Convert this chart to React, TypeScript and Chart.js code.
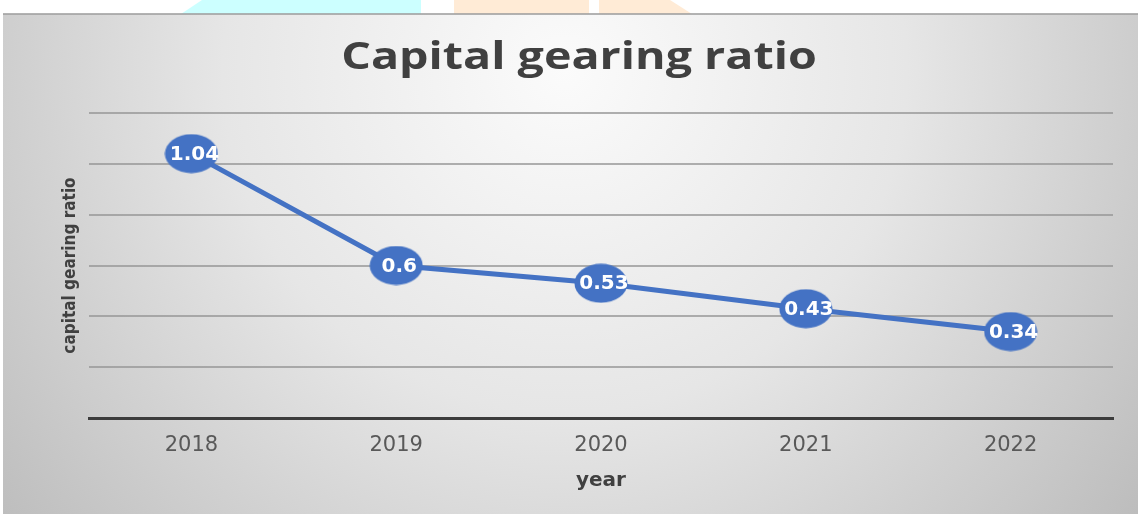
import React, { useEffect, useRef } from "react";
import { Chart, registerables } from "chart.js";

Chart.register(...registerables);

const categories = ["2018", "2019", "2020", "2021", "2022"];
const ratioValues = [1.04, 0.6, 0.53, 0.43, 0.34];
const yTicks = [0, 0.2, 0.4, 0.6, 0.8, 1.0, 1.2];
const chartTitle = "Capital gearing ratio";

const BLUE = "#4472C4";

function makeEllipse(): HTMLCanvasElement {
  const c = document.createElement("canvas");
  c.width = 54;
  c.height = 40;
  const ctx = c.getContext("2d")!;
  ctx.fillStyle = BLUE;
  ctx.beginPath();
  ctx.ellipse(27, 20, 26.5, 19.5, 0, 0, Math.PI * 2);
  ctx.fill();
  return c;
}

const backgroundPlugin = {
  id: "bgPlugin",
  beforeDraw(chart: any) {
    const { ctx, width, height } = chart;
    ctx.save();
    ctx.fillStyle = "#ffffff";
    ctx.fillRect(0, 0, width, height);
    // faint watermark fragments in top strip
    ctx.fillStyle = "#ccffff";
    ctx.beginPath();
    ctx.moveTo(202, 0);
    ctx.lineTo(421, 0);
    ctx.lineTo(421, 14);
    ctx.lineTo(181, 14);
    ctx.closePath();
    ctx.fill();
    ctx.fillStyle = "#ffebd6";
    ctx.beginPath();
    ctx.moveTo(454, 0);
    ctx.lineTo(589, 0);
    ctx.lineTo(589, 14);
    ctx.lineTo(454, 14);
    ctx.closePath();
    ctx.fill();
    ctx.beginPath();
    ctx.moveTo(599, 0);
    ctx.lineTo(670, 0);
    ctx.lineTo(692, 14);
    ctx.lineTo(599, 14);
    ctx.closePath();
    ctx.fill();
    // gradient panel
    const g = ctx.createRadialGradient(565, 70, 0, 565, 70, 760);
    g.addColorStop(0, "#fbfbfb");
    g.addColorStop(0.45, "#e6e6e6");
    g.addColorStop(1, "#b9b9b9");
    ctx.fillStyle = g;
    ctx.fillRect(3, 14, width - 3, height - 14);
    ctx.fillStyle = "rgba(160,160,160,0.8)";
    ctx.fillRect(3, 13, width - 3, 2);
    // chart title (horizontally stretched like the reference)
    ctx.fillStyle = "#404040";
    ctx.font = "bold 37px 'Open Sans', sans-serif";
    ctx.textAlign = "center";
    ctx.textBaseline = "alphabetic";
    ctx.translate(579, 69);
    ctx.scale(1.26, 1);
    ctx.fillText(chartTitle, 0, 0);
    ctx.restore();
  },
};

const labelPlugin = {
  id: "pointLabels",
  afterDatasetsDraw(chart: any) {
    const { ctx } = chart;
    const meta = chart.getDatasetMeta(0);
    const data = chart.data.datasets[0].data as number[];
    ctx.save();
    ctx.fillStyle = "#ffffff";
    ctx.font = "bold 20px 'DejaVu Sans', sans-serif";
    ctx.textAlign = "center";
    ctx.textBaseline = "middle";
    meta.data.forEach((pt: any, i: number) => {
      ctx.fillText(String(data[i]), pt.x + 3, pt.y + 1);
    });
    ctx.restore();
  },
};

export default function App() {
  const ref = useRef<HTMLCanvasElement | null>(null);

  useEffect(() => {
    if (!ref.current) return;
    const ellipse = makeEllipse();
    const chart = new Chart(ref.current, {
      type: "line",
      data: {
        labels: categories,
        datasets: [
          {
            label: "capital gearing ratio",
            data: ratioValues,
            borderColor: BLUE,
            backgroundColor: BLUE,
            borderWidth: 5,
            tension: 0,
            pointStyle: ellipse as any,
            pointRadius: 20,
            fill: false,
          },
        ],
      },
      options: {
        responsive: false,
        animation: false,
        devicePixelRatio: 1,
        layout: { padding: { left: 0, right: 24, top: 113, bottom: 0 } },
        plugins: {
          legend: { display: false },
          tooltip: { enabled: false },
          title: { display: false },
        },
        scales: {
          x: {
            type: "category",
            offset: true,
            grid: { display: false, drawTicks: false },
            border: { display: true, color: "#3c3c3c", width: 3 },
            ticks: {
              color: "#595959",
              font: { family: "'DejaVu Sans', sans-serif", size: 21, lineHeight: 1.2 },
              padding: 15,
              maxRotation: 0,
            },
            title: {
              display: true,
              text: "year",
              color: "#404040",
              font: { family: "'DejaVu Sans', sans-serif", size: 20, weight: "bold", lineHeight: 1.2 },
              padding: { top: 0, bottom: 21 },
            },
            afterFit(scale: any) {
              scale.height = 96;
            },
          },
          y: {
            min: 0,
            max: 1.2,
            afterBuildTicks(scale: any) {
              scale.ticks = yTicks.map((v) => ({ value: v }));
            },
            ticks: { display: false },
            grid: {
              drawTicks: false,
              lineWidth: 2,
              color: (c: any) => (c.tick && c.tick.value === 0 ? "rgba(0,0,0,0)" : "rgba(150,150,150,0.75)"),
            },
            border: { display: false },
            title: {
              display: true,
              text: "capital gearing ratio",
              color: "#404040",
              font: { family: "'Liberation Sans Narrow', 'DejaVu Sans Condensed', sans-serif", size: 17, weight: "bold", lineHeight: 1.2 },
              padding: { top: 60, bottom: 0 },
            },
            afterFit(scale: any) {
              scale.width = 89;
            },
          },
        },
      },
      plugins: [backgroundPlugin, labelPlugin],
    });
    return () => chart.destroy();
  }, []);

  return (
    <div style={{ position: "absolute", left: 0, top: 0, width: 1138, height: 514 }}>
      <canvas ref={ref} width={1138} height={514} style={{ display: "block", width: 1138, height: 514 }} />
    </div>
  );
}
